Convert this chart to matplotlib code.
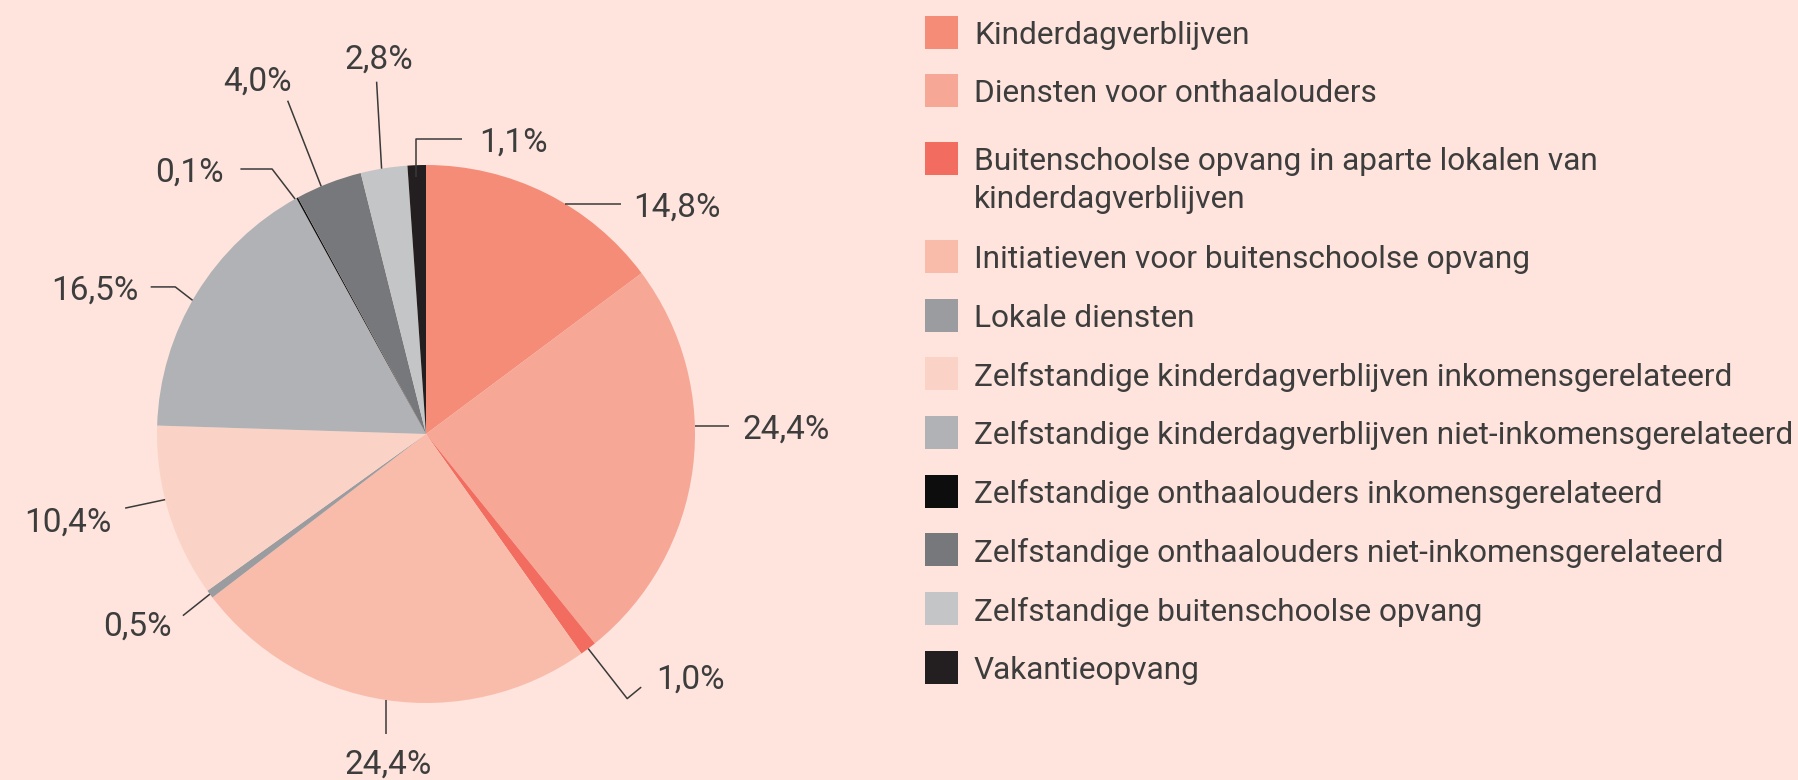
import numpy as np
import matplotlib.pyplot as plt
from matplotlib.patches import Rectangle

categories = ["Kinderdagverblijven",
              "Diensten voor onthaalouders",
              "Buitenschoolse opvang in aparte lokalen van\nkinderdagverblijven",
              "Initiatieven voor buitenschoolse opvang",
              "Lokale diensten",
              "Zelfstandige kinderdagverblijven inkomensgerelateerd",
              "Zelfstandige kinderdagverblijven niet-inkomensgerelateerd",
              "Zelfstandige onthaalouders inkomensgerelateerd",
              "Zelfstandige onthaalouders niet-inkomensgerelateerd",
              "Zelfstandige buitenschoolse opvang",
              "Vakantieopvang"]
shares = [14.8, 24.4, 1.0, 24.4, 0.5, 10.4, 16.5, 0.1, 4.0, 2.8, 1.1]
labels = ["14,8%", "24,4%", "1,0%", "24,4%", "0,5%", "10,4%", "16,5%", "0,1%", "4,0%", "2,8%", "1,1%"]
colors = ["#F58C78", "#F7A796", "#F26D60", "#F9BCAB", "#9B9CA0", "#FBD3C6",
          "#B1B2B5", "#0D0D0D", "#77787B", "#C4C5C7", "#231F20"]

bg = "#FEE4DD"
txt = "#3D3D3D"
plt.rcParams['font.family'] = ['Roboto', 'DejaVu Sans']

W, H = 1799, 780
fig = plt.figure(figsize=(W / 100, H / 100), dpi=100, facecolor=bg)
ax = fig.add_axes([0, 0, 1, 1])

cx, cy, R = 426, H - 434, 269
wedges, _ = ax.pie(shares, colors=colors, startangle=90, counterclock=False,
                   center=(cx, cy), radius=R, frame=True,
                   wedgeprops=dict(linewidth=0))
ax.set_xlim(0, W)
ax.set_ylim(0, H)
ax.axis('off')

# leader lines: angle nudge, radius factor, segment offsets, text offset, ha
leaders = [
    (-4.5, 1.0, [(56, 0)], (12, 0), 'left'),
    (8.9, 1.0, [(34, 0)], (14, 0), 'left'),
    (0, 1.0, [(39, -50), (14, 11.5)], (15, 11), 'left'),
    (0, 1.0, [(0, -34.5)], (3, -27), 'center'),
    (0, 1.0, [(-27, -21.5)], (-11, -7), 'right'),
    (-2.8, 1.0, [(-40, -8.5)], (-14, -11.5), 'right'),
    (1.7, 1.0, [(-17.3, 13.4), (-24.6, 0)], (-12.6, 0), 'right'),
    (0.5, 1.0, [(-23, 30), (-31.7, 0)], (-17, 0), 'right'),
    (1.7, 1.0, [(-33.5, 85.6)], (-30, 23), 'center'),
    (0.5, 1.0, [(-5, 87)], (2, 26), 'center'),
    (0.3, 0.955, [(0, 38.3), (46.4, 0)], (17, 0), 'left'),
]
for w, lab, (nudge, rf, segs, toff, ha) in zip(wedges, labels, leaders):
    th = np.deg2rad((w.theta1 + w.theta2) / 2 + nudge)
    x, y = cx + rf * R * np.cos(th), cy + rf * R * np.sin(th)
    xs, ys = [x], [y]
    for dx, dy in segs:
        xs.append(xs[-1] + dx)
        ys.append(ys[-1] + dy)
    ax.plot(xs, ys, color="#3A3A3A", lw=1.1, solid_capstyle='butt')
    ax.text(xs[-1] + toff[0], ys[-1] + toff[1], lab, ha=ha, va='center_baseline',
            fontsize=24, color=txt)

# legend
y = H - 32
for i, (cat, col) in enumerate(zip(categories, colors)):
    ax.add_patch(Rectangle((925, y - 16.5), 33, 33, facecolor=col, edgecolor='none'))
    lines = cat.split("\n")
    for k, line in enumerate(lines):
        ax.text(974, y - 38 * k, line, ha='left', va='center_baseline',
                fontsize=22.8, color=txt)
    y -= 58.7 + 39.3 * (len(lines) - 1)
    if i == 1:
        y -= 9

fig.savefig("out.png", dpi=100, facecolor=bg)
